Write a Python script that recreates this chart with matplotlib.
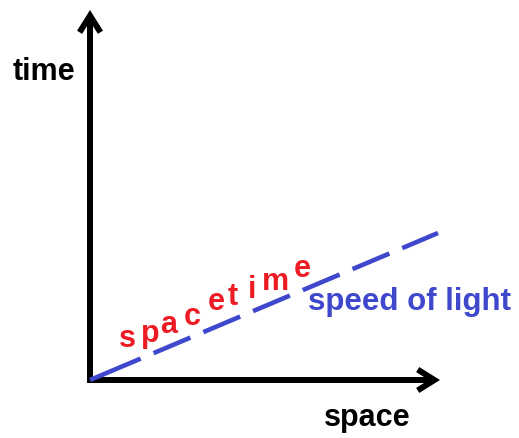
import matplotlib.pyplot as plt

plt.rcParams['font.family'] = ['Liberation Sans', 'DejaVu Sans']
plt.rcParams['lines.scale_dashes'] = False

# positions in picture pixels (x right, y down)
origin = (90, 380)
time_axis_top = (90, 10)
space_axis_end = (440, 380)
light_x = [90, 438]
light_y = [380, 233]

word = list("spacetime")
letter_x = [127.5, 150, 169, 192, 216, 233, 252, 275, 302]
letter_base = [347, 342, 333, 325, 310, 305, 298, 290, 277]

axis_labels = ["time", "space"]
light_label = "speed of light"

fig = plt.figure(figsize=(5.19, 4.38), dpi=100)
ax = fig.add_axes([0, 0, 1, 1])
ax.set_xlim(0, 519)
ax.set_ylim(438, 0)
ax.axis("off")

# --- axes arrows ---
arrow = dict(arrowstyle="->,head_length=1.2,head_width=0.75", color="black",
             lw=4.3, shrinkA=0, shrinkB=0, joinstyle="miter", capstyle="butt")
ax.annotate("", xy=time_axis_top, xytext=(origin[0], origin[1] + 3), arrowprops=arrow)
ax.annotate("", xy=space_axis_end, xytext=(origin[0] - 3, origin[1]), arrowprops=arrow)

# --- light line (first dash longer, like the original) ---
px = 0.72
ax.plot(light_x, light_y, color="#3f48cc", lw=3.3,
        dashes=(55 * px, 14 * px) + (40 * px, 14 * px) * 6,
        dash_capstyle="butt", zorder=3)

# --- labels ---
ax.text(44, 72, axis_labels[0], fontsize=22, fontweight="bold", ha="center", va="center")
ax.text(367, 418, axis_labels[1], fontsize=22, fontweight="bold", ha="center", va="center")
ax.text(410, 302, light_label, fontsize=22.5, fontweight="bold", color="#3f48cc",
        ha="center", va="center")

for ch, x, y in zip(word, letter_x, letter_base):
    ax.text(x, y, ch, fontsize=22, fontweight="bold", color="#ed1c24",
            ha="center", va="baseline")

plt.savefig("out.png", dpi=100)
plt.close()
